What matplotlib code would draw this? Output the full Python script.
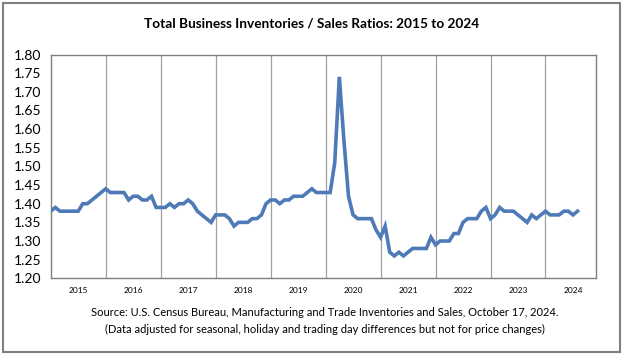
import matplotlib
matplotlib.use("Agg")
import matplotlib.pyplot as plt
from matplotlib.patches import Rectangle
import numpy as np

plt.rcParams['font.family'] = ['Lato', 'DejaVu Sans']

# Monthly inventories/sales ratios, Jan of each year onward
r2015 = [1.38, 1.39, 1.38, 1.38, 1.38, 1.38, 1.38, 1.40, 1.40, 1.41, 1.42, 1.43]
r2016 = [1.44, 1.43, 1.43, 1.43, 1.43, 1.41, 1.42, 1.42, 1.41, 1.41, 1.42, 1.39]
r2017 = [1.39, 1.39, 1.40, 1.39, 1.40, 1.40, 1.41, 1.40, 1.38, 1.37, 1.36, 1.35]
r2018 = [1.37, 1.37, 1.37, 1.36, 1.34, 1.35, 1.35, 1.35, 1.36, 1.36, 1.37, 1.40]
r2019 = [1.41, 1.41, 1.40, 1.41, 1.41, 1.42, 1.42, 1.42, 1.43, 1.44, 1.43, 1.43]
r2020 = [1.43, 1.43, 1.51, 1.74, 1.57, 1.42, 1.37, 1.36, 1.36, 1.36, 1.36, 1.33]
r2021 = [1.31, 1.34, 1.27, 1.26, 1.27, 1.26, 1.27, 1.28, 1.28, 1.28, 1.28, 1.31]
r2022 = [1.29, 1.30, 1.30, 1.30, 1.32, 1.32, 1.35, 1.36, 1.36, 1.36, 1.38, 1.39]
r2023 = [1.36, 1.37, 1.39, 1.38, 1.38, 1.38, 1.37, 1.36, 1.35, 1.37, 1.36, 1.37]
r2024 = [1.38, 1.37, 1.37, 1.37, 1.38, 1.38, 1.37, 1.38]

years = [2015, 2016, 2017, 2018, 2019, 2020, 2021, 2022, 2023, 2024]
series = [r2015, r2016, r2017, r2018, r2019, r2020, r2021, r2022, r2023, r2024]
year_labels = [str(y) for y in years]
yticks = [1.20, 1.25, 1.30, 1.35, 1.40, 1.45, 1.50, 1.55, 1.60, 1.65, 1.70, 1.75, 1.80]

title = "Total Business Inventories / Sales Ratios: 2015 to 2024"
source1 = "Source: U.S. Census Bureau, Manufacturing and Trade Inventories and Sales, October 17, 2024."
source2 = "(Data adjusted for seasonal, holiday and trading day differences but not for price changes)"

x = []
v = []
for yr, vals in zip(years, series):
    for m, val in enumerate(vals):
        x.append(yr + m / 12.0)
        v.append(val)

fig = plt.figure(figsize=(6.24, 3.6), dpi=100)
ax = fig.add_axes([0.0813, 0.2269, 0.9552 - 0.0813, 0.8486 - 0.2269])

for yr in years[1:]:
    ax.axvline(yr, color='#a0a0a0', lw=0.9, zorder=1)

ax.plot(x, v, color='#4f7ab8', lw=2.6, solid_joinstyle='miter', zorder=3)

ax.set_xlim(2015, 2024.92)
ax.set_ylim(1.20, 1.80)
ax.set_yticks(yticks)
ax.set_yticklabels([f"{t:.2f}" for t in yticks], fontsize=10)
ax.set_xticks([y + 0.5 for y in years])
ax.set_xticklabels(year_labels, fontsize=6)
ax.tick_params(axis='both', length=0)
ax.tick_params(axis='y', pad=7)
ax.tick_params(axis='x', pad=6)
for s in ax.spines.values():
    s.set_color('#7f7f7f')
    s.set_linewidth(1.0)

fig.text(0.5, 1 - 24 / 360, title, ha='center', va='center', fontsize=9.8, fontweight='bold')
fig.text(0.52, 1 - 313 / 360, source1, ha='center', va='center', fontsize=8)
fig.text(0.52, 1 - 329 / 360, source2, ha='center', va='center', fontsize=8)

fig.patches.append(Rectangle((3 / 624, 1 - 352 / 360), 617 / 624, 349 / 360,
                             transform=fig.transFigure, fill=False,
                             edgecolor='#7f7f7f', lw=1.5))

fig.savefig("out.png", dpi=100)
